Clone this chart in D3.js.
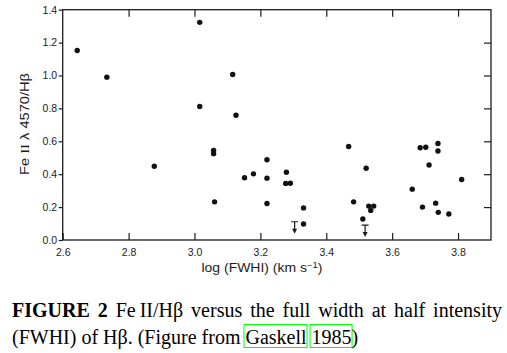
<!DOCTYPE html>
<html>
<head>
<meta charset="utf-8">
<script src="https://cdn.jsdelivr.net/npm/d3@7"></script>
<style>
  body { margin: 0; background: #fff; }
  svg { display: block; }
</style>
</head>
<body>
<main></main>
<script>
// data
const logFwhm = [2.644, 2.734, 3.016, 3.016, 3.116, 3.126, 2.878, 3.058, 3.058, 3.061,
  3.152, 3.179, 3.220, 3.220, 3.220, 3.279, 3.277, 3.291, 3.331, 3.331,
  3.468, 3.483, 3.521, 3.511, 3.529, 3.544, 3.535, 3.661, 3.685, 3.702,
  3.739, 3.739, 3.712, 3.692, 3.732, 3.740, 3.772, 3.811];
const feRatio = [1.152, 0.990, 1.323, 0.812, 1.006, 0.758, 0.448, 0.545, 0.525, 0.232,
  0.378, 0.402, 0.488, 0.376, 0.222, 0.412, 0.344, 0.345, 0.195, 0.097,
  0.568, 0.232, 0.436, 0.128, 0.206, 0.206, 0.180, 0.309, 0.561, 0.564,
  0.587, 0.541, 0.456, 0.200, 0.224, 0.168, 0.158, 0.368];
// upper limits
const limitFwhm = [3.304, 3.518];
const limitRatio = [0.111, 0.091];

const xTicks = [2.6, 2.8, 3.0, 3.2, 3.4, 3.6, 3.8];
const yTicks = [0, 0.2, 0.4, 0.6, 0.8, 1.0, 1.2, 1.4];

const captionLine1 = ["FIGURE", "2", "Fe\u2009II/H\u03b2", "versus", "the", "full", "width", "at", "half", "intensity"];
const captionLine2 = ["(FWHI) of H\u03b2. (Figure from ", "Gaskell", " ", "1985", ")"];

const width = 507, height = 353;
const plot = { left: 62.7, right: 491, top: 9.7, bottom: 240 };

const svg = d3.select("main").append("svg")
  .attr("width", width).attr("height", height);

const x = d3.scaleLinear().domain([2.6, 3.9]).range([plot.left, plot.right]);
const y = d3.scaleLinear().domain([0, 1.4]).range([plot.bottom, plot.top]);

const ink = "#1c1c1c";
const axisFont = "'Liberation Sans', Arial, sans-serif";

// frame
svg.append("rect")
  .attr("x", plot.left).attr("y", plot.top)
  .attr("width", plot.right - plot.left).attr("height", plot.bottom - plot.top)
  .attr("fill", "none").attr("stroke", ink).attr("stroke-width", 1.3);

const styleAxis = g => {
  g.select(".domain").remove();
  g.selectAll(".tick line").attr("stroke", ink).attr("stroke-width", 1.2);
  g.selectAll(".tick text").attr("fill", ink)
    .style("font-family", axisFont).style("font-size", "10.5px");
};

svg.append("g")
  .attr("transform", `translate(0,${plot.bottom})`)
  .call(d3.axisBottom(x).tickValues(xTicks).tickSizeInner(-7).tickSizeOuter(0)
    .tickPadding(8.5).tickFormat(d3.format(".1f")))
  .call(styleAxis);

svg.append("g")
  .attr("transform", `translate(0,${plot.top})`)
  .call(d3.axisTop(x).tickValues(xTicks.slice(1)).tickSizeInner(-7).tickSizeOuter(0).tickFormat(""))
  .call(styleAxis);

svg.append("g")
  .attr("transform", `translate(${plot.left},0)`)
  .call(d3.axisLeft(y).tickValues(yTicks).tickSizeInner(4).tickSizeOuter(0)
    .tickPadding(1.5).tickFormat(d3.format(".1f")))
  .call(styleAxis);

svg.append("g")
  .attr("transform", `translate(${plot.right},0)`)
  .call(d3.axisRight(y).tickValues(yTicks.slice(1, -1)).tickSizeInner(-7).tickSizeOuter(0).tickFormat(""))
  .call(styleAxis);

// axis titles
const xTitle = svg.append("text")
  .attr("x", 262).attr("y", 272)
  .attr("text-anchor", "middle")
  .attr("textLength", 121).attr("lengthAdjust", "spacingAndGlyphs")
  .style("font-family", axisFont).style("font-size", "12.5px").attr("fill", ink);
xTitle.append("tspan").text("log (FWHI) (km s");
xTitle.append("tspan").attr("dy", -4.5).style("font-size", "8.5px").text("\u22121");
xTitle.append("tspan").attr("dy", 4.5).text(")");

const yTitle = svg.append("text")
  .attr("transform", "translate(28.5,124) rotate(-90)")
  .attr("text-anchor", "middle")
  .attr("textLength", 102).attr("lengthAdjust", "spacingAndGlyphs")
  .style("font-family", axisFont).style("font-size", "12.5px").attr("fill", ink);
yTitle.append("tspan").text("Fe ");
yTitle.append("tspan").style("font-family", "'Liberation Serif', serif").text("II");
yTitle.append("tspan").text(" \u03bb 4570/H\u03b2");

// points
const points = logFwhm.map((v, i) => ({ fwhm: v, ratio: feRatio[i] }));
svg.append("g").selectAll("circle")
  .data(points)
  .join("circle")
  .attr("cx", d => x(d.fwhm))
  .attr("cy", d => y(d.ratio))
  .attr("r", 2.7)
  .attr("fill", "#111");

// upper limit markers
const limits = limitFwhm.map((v, i) => ({ fwhm: v, ratio: limitRatio[i] }));
const lim = svg.append("g").selectAll("g")
  .data(limits)
  .join("g")
  .attr("transform", d => `translate(${x(d.fwhm)},${y(d.ratio)})`);
lim.append("path")
  .attr("d", "M-3.5,0H3.5M0,0V8")
  .attr("stroke", ink).attr("stroke-width", 1.2).attr("fill", "none");
lim.append("path")
  .attr("d", "M-2.5,7L2.5,7L0,12Z")
  .attr("fill", ink);

// caption
const capFont = "'Liberation Serif', 'Times New Roman', serif";
const capSize = 20;
const line1Y = 317, line2Y = 344;
const capLeft = 12, capRight = 502;

const words = captionLine1.map((w, i) => {
  const t = svg.append("text")
    .attr("y", line1Y)
    .style("font-family", capFont).style("font-size", capSize + "px")
    .style("font-weight", i < 2 ? "bold" : "normal")
    .attr("fill", "#000")
    .text(w);
  return { t, w: t.node().getComputedTextLength() };
});
const gap = (capRight - capLeft - d3.sum(words, d => d.w)) / (words.length - 1);
let cx = capLeft;
words.forEach(d => { d.t.attr("x", cx); cx += d.w + gap; });

let cx2 = capLeft;
captionLine2.forEach(w => {
  const t = svg.append("text")
    .attr("x", cx2).attr("y", line2Y)
    .style("font-family", capFont).style("font-size", capSize + "px")
    .style("white-space", "pre")
    .attr("fill", "#000")
    .text(w);
  const len = t.node().getComputedTextLength();
  if (w === "Gaskell" || w === "1985") {
    svg.append("rect")
      .attr("x", cx2 - 1.5).attr("y", line2Y - 19.5)
      .attr("width", len + 2).attr("height", 23)
      .attr("fill", "none").attr("stroke", "#00ff00").attr("stroke-width", 1);
  }
  cx2 += len;
});
</script>
</body>
</html>
